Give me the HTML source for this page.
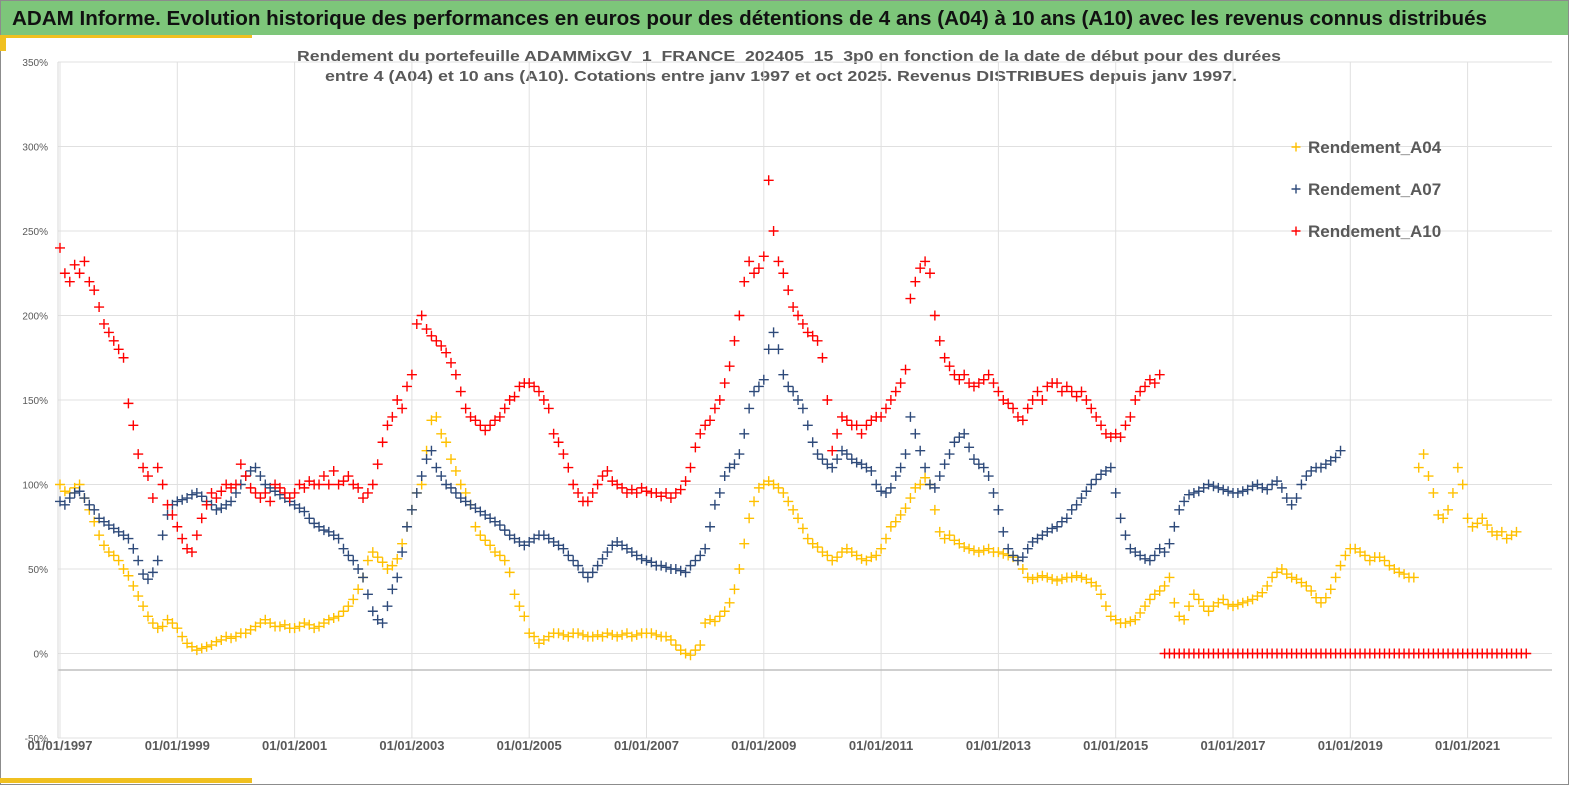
<!DOCTYPE html>
<html><head><meta charset="utf-8"><style>
html,body{margin:0;padding:0;background:#fff;}
svg{display:block;font-family:"Liberation Sans",sans-serif;}
</style></head><body>
<svg id="chart" width="1569" height="785" viewBox="0 0 1569 785" xmlns="http://www.w3.org/2000/svg">
<rect x="0" y="0" width="1569" height="785" fill="#fff"/>
<rect x="0.5" y="0.5" width="1568" height="784" fill="none" stroke="#8c8c8c"/>
<rect x="1" y="1" width="1567" height="34" fill="#7dc67a"/>
<rect x="0" y="35" width="252" height="3" fill="#f0c020"/>
<rect x="0" y="35" width="6" height="16" fill="#f0c020"/>
<rect x="0" y="778" width="252" height="5" fill="#f0c020"/>
<text x="12" y="25" font-size="20" font-weight="bold" fill="#111" textLength="1475" lengthAdjust="spacingAndGlyphs">ADAM Informe. Evolution historique des performances en euros pour des détentions de 4 ans (A04) à 10 ans (A10) avec les revenus connus distribués</text>
<text x="297" y="61" font-size="15" font-weight="bold" fill="#595959" textLength="984" lengthAdjust="spacingAndGlyphs">Rendement du portefeuille ADAMMixGV_1_FRANCE_202405_15_3p0  en fonction de la date de début pour des durées</text>
<text x="325" y="81" font-size="15" font-weight="bold" fill="#595959" textLength="912" lengthAdjust="spacingAndGlyphs">entre 4 (A04) et 10 ans (A10). Cotations entre janv 1997 et oct 2025. Revenus DISTRIBUES depuis janv 1997.</text>
<g id="grid"></g>
<g id="axes"></g>
<g id="marks"></g>
<g id="legend"></g>
</svg>
<script>
const yTicks = [350,300,250,200,150,100,50,0,-50];
const xTickYears = [1997,1999,2001,2003,2005,2007,2009,2011,2013,2015,2017,2019,2021];
const a04Start = 1997.0;
const a04 = [100,96,95,98,100,92,85,78,70,64,60,58,
55,50,46,40,34,28,22,18,15,16,20,18,
15,10,6,4,2,3,4,5,7,8,10,9,
10,12,12,14,16,18,20,18,16,16,17,15,
15,16,18,17,15,16,18,20,21,22,25,28,
32,38,45,55,60,57,54,50,52,56,65,75,
85,95,100,120,138,140,130,125,115,108,100,95,
88,75,70,67,64,60,58,55,48,35,28,22,
12,10,6,8,10,12,12,11,10,12,12,11,
10,10,11,10,12,11,10,11,12,10,11,12,
12,12,11,10,10,8,5,2,0,-1,2,5,
18,20,19,22,25,30,38,50,65,80,90,98,
100,102,100,98,95,90,85,80,74,68,65,63,
60,58,55,57,60,62,60,58,56,55,57,58,
62,68,75,78,82,86,92,98,100,104,100,85,
72,68,70,67,65,63,62,61,60,61,62,60,
60,59,58,57,55,50,45,44,45,46,45,44,
43,44,45,45,46,45,44,42,40,35,28,22,
20,18,18,19,20,24,28,32,35,37,40,45,
30,22,20,28,35,32,28,25,28,30,32,29,
28,29,30,31,32,34,36,40,45,48,50,47,
45,44,42,40,37,33,30,33,38,45,52,58,
62,62,60,58,55,57,57,55,52,50,48,47,
45,45,110,118,105,95,82,80,85,95,110,100,
80,75,77,80,76,72,70,72,68,70,72];
const a07Start = 1997.0;
const a07 = [90,88,92,95,96,92,88,85,80,78,76,74,
72,70,68,62,55,47,44,48,55,70,82,88,
90,91,92,94,95,93,90,88,85,86,88,90,
95,100,105,108,110,105,100,98,96,94,92,90,
88,86,84,80,77,75,73,72,70,68,62,58,
55,50,45,35,25,20,18,28,38,45,60,75,
85,95,105,115,120,110,105,100,98,95,92,90,
88,86,84,82,80,78,76,73,70,68,66,64,
66,68,70,70,68,66,64,62,58,55,52,48,
45,48,52,56,60,64,66,64,62,60,58,56,
55,54,52,52,51,50,50,49,48,52,55,58,
62,75,88,95,105,110,112,118,130,145,155,158,
162,180,190,180,165,158,155,150,145,135,125,118,
115,112,110,115,120,118,115,113,112,110,108,100,
96,95,98,105,110,118,140,130,120,110,100,98,
105,112,118,125,128,130,122,115,112,110,105,95,
85,72,62,58,55,57,62,66,68,70,72,74,
75,78,80,85,88,92,96,100,103,106,108,110,
95,80,70,62,60,58,56,55,58,62,60,65,
75,85,90,94,95,96,98,100,99,98,97,96,
95,95,96,97,99,100,98,97,100,102,98,92,
88,92,100,105,108,110,110,112,114,116,120];
const a10Start = 1997.0;
const a10 = [240,225,220,230,225,232,220,215,205,195,190,185,
180,175,148,135,118,110,105,92,110,100,88,82,
75,68,62,60,70,80,88,95,92,96,100,98,
100,112,105,98,95,92,95,90,100,98,95,92,
95,100,98,102,100,100,105,100,108,100,102,105,
100,98,92,95,100,112,125,135,140,150,145,158,
165,195,200,192,188,185,182,178,172,165,155,145,
140,138,135,132,135,138,140,145,150,152,158,160,
160,158,155,150,145,130,125,118,110,100,95,90,
90,95,100,105,108,102,100,98,95,97,95,98,
96,95,95,93,95,92,95,97,102,110,122,130,
135,138,145,150,160,170,185,200,220,232,225,228,
235,280,250,232,225,215,205,200,195,190,188,185,
175,150,120,130,140,138,135,135,130,135,138,140,
140,145,150,155,160,168,210,220,228,232,225,200,
185,175,170,165,162,165,160,158,160,162,165,160,
155,150,148,145,140,138,145,150,155,150,158,160,
160,155,158,155,152,155,150,145,140,135,130,128,
130,128,135,140,150,155,158,162,160,165,
0,0,
0,0,0,0,0,0,0,0,0,0,0,0,
0,0,0,0,0,0,0,0,0,0,0,0,
0,0,0,0,0,0,0,0,0,0,0,0,
0,0,0,0,0,0,0,0,0,0,0,0,
0,0,0,0,0,0,0,0,0,0,0,0,
0,0,0,0,0,0,0,0,0,0,0,0,0];
const legendNames = ["Rendement_A04","Rendement_A07","Rendement_A10"];

const NS = "http://www.w3.org/2000/svg";
const X0 = 60, PX_PER_YEAR = 58.65;
const Y_TOP = 62, Y_BOT = 738, VMAX = 350, VMIN = -50;
const xScale = yr => X0 + (yr - 1997) * PX_PER_YEAR;
const yScale = v => Y_TOP + (VMAX - v) / (VMAX - VMIN) * (Y_BOT - Y_TOP);
function mk(tag, attrs, parent){ const e=document.createElementNS(NS,tag); for(const k in attrs) e.setAttribute(k,attrs[k]); parent.appendChild(e); return e; }

const grid = document.getElementById('grid');
const axes = document.getElementById('axes');
yTicks.forEach(t=>{
  const y = yScale(t);
  const gl = mk('line',{x1:58,x2:1552,y1:y,y2:y,stroke:'#e0e0e0','stroke-width':1},grid);
  
  
  const lb = mk('text',{x:48,y:y+4,'font-size':10,fill:'#595959','text-anchor':'end'},axes);
  lb.textContent = t + '%';
  
  
});
xTickYears.forEach(yr=>{
  const x = xScale(yr);
  const gl = mk('line',{x1:x,x2:x,y1:Y_TOP,y2:Y_BOT,stroke:'#e0e0e0','stroke-width':1},grid);
  
  
  const lb = mk('text',{x:x,y:750,'font-size':13,'font-weight':'bold',fill:'#595959','text-anchor':'middle'},axes);
  lb.textContent = '01/01/' + yr;
  
  
});
const xa = mk('line',{x1:58,x2:1552,y1:670,y2:670,stroke:'#bfbfbf','stroke-width':1.5},axes);


const ya = mk('line',{x1:58,x2:58,y1:Y_TOP,y2:Y_BOT,stroke:'#d9d9d9','stroke-width':1},axes);



const marks = document.getElementById('marks');
function cross(x,y,color,parent,s){
  return mk('path',{d:`M${x-s} ${y}H${x+s}M${x} ${y-s}V${y+s}`,stroke:color,'stroke-width':1.4,fill:'none'},parent);
}
function drawSeries(vals,start,color,name){
  const g = mk('g',{},marks);
  
  
  vals.forEach((v,i)=>{
    const p = cross(xScale(start + i/12), yScale(v), color, g, 5);
    
    
  });
}
drawSeries(a04,a04Start,'#ffc000','series-a04');
drawSeries(a07,a07Start,'#2e4a7a','series-a07');
drawSeries(a10,a10Start,'#ff0000','series-a10');

const legend = document.getElementById('legend');
const lcolors = ['#ffc000','#2e4a7a','#ff0000'];
legendNames.forEach((n,i)=>{
  const y = 147 + i*42;
  const g = mk('g',{},legend);
  
  
  cross(1296,y,lcolors[i],g,4.5);
  const t = mk('text',{x:1308,y:y+6,'font-size':17,'font-weight':'bold',fill:'#595959'},g);
  t.textContent = n;
});
</script>
</body></html>
